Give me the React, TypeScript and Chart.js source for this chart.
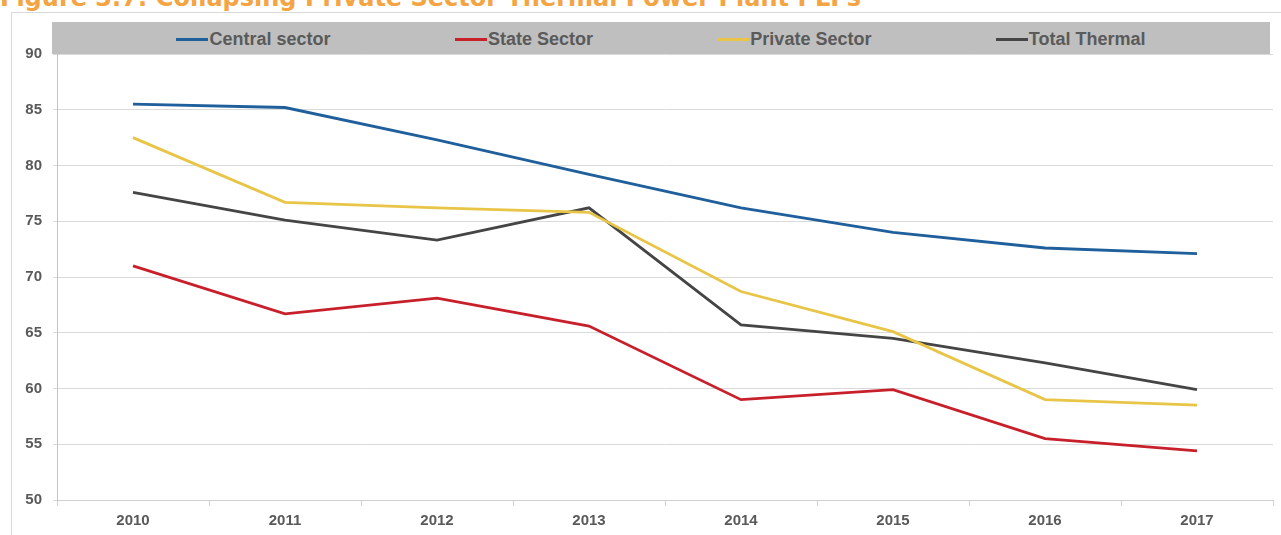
import React, { useEffect, useRef } from "react";
import { Chart, registerables } from "chart.js";

Chart.register(...registerables);

const years = ["2010", "2011", "2012", "2013", "2014", "2015", "2016", "2017"];
const centralSector = [85.5, 85.2, 82.3, 79.2, 76.2, 74.0, 72.6, 72.1];
const stateSector = [71.0, 66.7, 68.1, 65.6, 59.0, 59.9, 55.5, 54.4];
const privateSector = [82.5, 76.7, 76.2, 75.8, 68.7, 65.1, 59.0, 58.5];
const totalThermal = [77.6, 75.1, 73.3, 76.2, 65.7, 64.5, 62.3, 59.9];
const seriesNames = ["Central sector", "State Sector", "Private Sector", "Total Thermal"];
const seriesColors = ["#1f5f9b", "#c8202b", "#e8c546", "#454545"];
const titleText = "Figure 3.7: Collapsing Private Sector Thermal Power Plant PLFs";

const FONT = "'Liberation Sans', Arial, sans-serif";

export default function App() {
  const ref = useRef<HTMLCanvasElement | null>(null);

  useEffect(() => {
    const canvas = ref.current;
    if (!canvas) return;
    const values = [centralSector, stateSector, privateSector, totalThermal];
    const chart = new Chart(canvas, {
      type: "line",
      data: {
        labels: years,
        datasets: seriesNames.map((name, i) => ({
          label: name,
          data: values[i],
          borderColor: seriesColors[i],
          backgroundColor: seriesColors[i],
          borderWidth: 2.8,
          pointRadius: 0,
          tension: 0,
          fill: false,
        })),
      },
      options: {
        animation: false,
        responsive: false,
        maintainAspectRatio: false,
        layout: { padding: { left: 11, right: 8, top: 54, bottom: 0 } },
        plugins: {
          legend: { display: false },
          title: { display: false },
          tooltip: { enabled: false },
        },
        scales: {
          x: {
            type: "category",
            offset: true,
            grid: {
              offset: true,
              drawOnChartArea: false,
              drawTicks: true,
              tickLength: 6,
              color: "#d0d0d0",
            },
            border: { color: "#d0d0d0", width: 1 },
            ticks: {
              color: "#595959",
              font: { family: FONT, size: 15, weight: "bold" },
              padding: 6,
              maxRotation: 0,
            },
            afterFit: (scale: any) => {
              scale.height = 35;
            },
          },
          y: {
            min: 50,
            max: 90,
            ticks: {
              stepSize: 5,
              color: "#595959",
              font: { family: FONT, size: 15, weight: "bold" },
              padding: 11,
            },
            grid: {
              color: "#dadada",
              tickLength: 4,
              drawTicks: true,
            },
            border: { color: "#c4c4c4", width: 1 },
            afterFit: (scale: any) => {
              scale.width = 46;
            },
          },
        },
      },
    });
    return () => chart.destroy();
  }, []);

  return (
    <div style={{ position: "absolute", left: 0, top: 0, width: 1281, height: 535, overflow: "hidden", background: "#fff" }}>
      <div
        style={{
          position: "absolute",
          left: 11,
          top: 12,
          width: 1270,
          height: 540,
          borderTop: "1px solid #d9d9d9",
          borderLeft: "1px solid #d9d9d9",
        }}
      />
      <div
        style={{
          position: "absolute",
          left: 0,
          top: -15,
          whiteSpace: "nowrap",
          color: "#f4a443",
          fontFamily: "'DejaVu Sans', sans-serif",
          fontWeight: "bold",
          fontSize: 24,
          lineHeight: "26px",
        }}
      >
        {titleText}
      </div>
      <canvas ref={ref} width={1281} height={535} style={{ position: "absolute", left: 0, top: 0, width: 1281, height: 535 }} />
      <div
        style={{
          position: "absolute",
          left: 52,
          top: 22,
          width: 1218,
          height: 32,
          background: "#bfbfbf",
          display: "flex",
          justifyContent: "space-evenly",
          alignItems: "center",
        }}
      >
        {seriesNames.map((name, i) => (
          <div key={name} style={{ display: "flex", alignItems: "center", marginTop: 2 }}>
            <div style={{ width: 32, height: 3, background: seriesColors[i] }} />
            <span
              style={{
                fontFamily: "'Liberation Sans Narrow', 'Liberation Sans', Arial, sans-serif",
                fontWeight: "bold",
                fontSize: 18,
                color: "#5a5a5a",
                marginLeft: 1,
                lineHeight: "20px",
              }}
            >
              {name}
            </span>
          </div>
        ))}
      </div>
    </div>
  );
}
